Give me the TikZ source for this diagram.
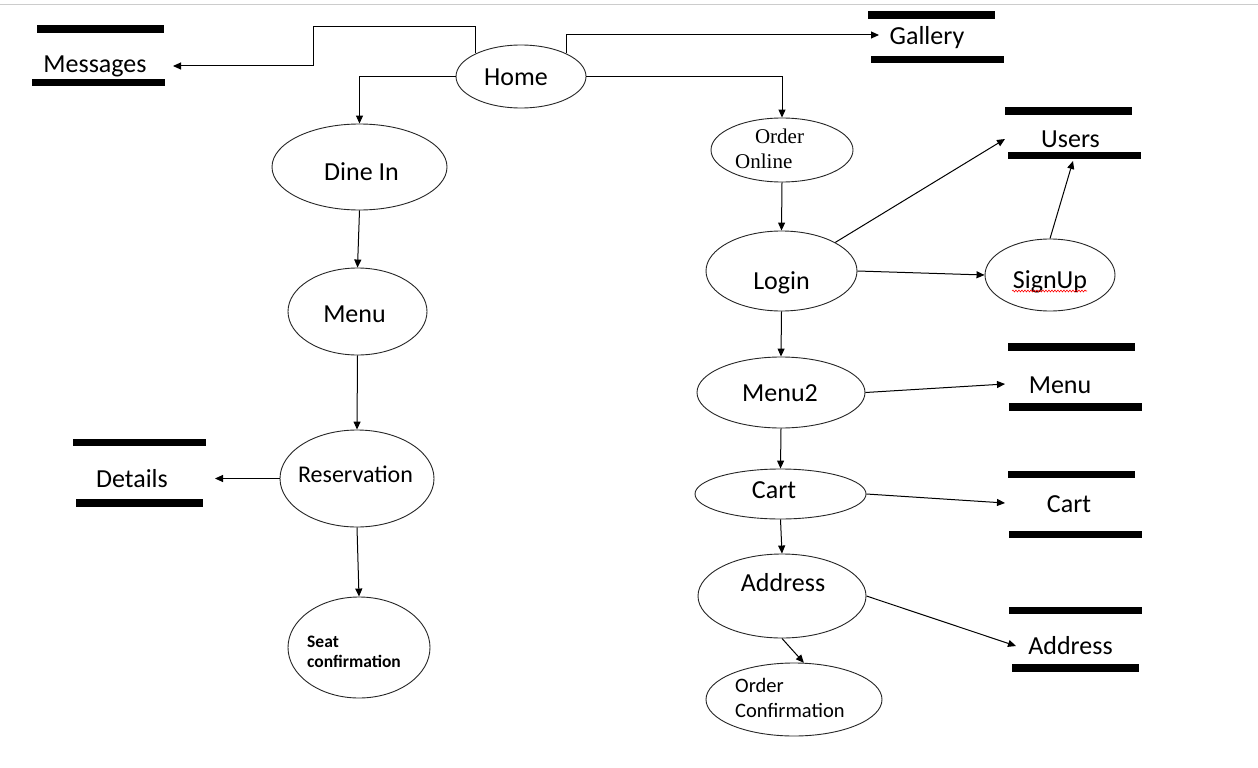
\documentclass[tikz,border=0pt]{standalone}
\usepackage{fontspec}
\setmainfont{Carlito}
\newfontfamily\timesf{Liberation Serif}
\usetikzlibrary{shapes.geometric,arrows.meta,decorations.pathmorphing}
\tikzset{
  proc/.style={draw=black!85, line width=0.9pt, ellipse, inner sep=0pt},
  txt/.style={inner sep=0pt, anchor=base, font=\fontsize{26}{30}\selectfont},
  bar/.style={line width=7.5pt, black},
  arr/.style={draw=black, line width=1pt, -{Triangle[length=8pt,width=7pt]}},
}
\begin{document}
\begin{tikzpicture}[x=1pt,y=-1pt]
\useasboundingbox (0,0) rectangle (1258,768);
\fill[white] (0,0) rectangle (1258,768);
\draw[gray!40, line width=1pt] (0,5) -- (1258,5);

% process ellipses
\node[proc, minimum width=130pt, minimum height=63pt] (home) at (521,76.5) {};
\node[proc, minimum width=175pt, minimum height=86pt] (dinein) at (359.5,167) {};
\node[proc, minimum width=139pt, minimum height=87pt] (menuA) at (357.5,311.5) {};
\node[proc, minimum width=154pt, minimum height=97pt] (resv) at (357,478.5) {};
\node[proc, minimum width=142pt, minimum height=101pt] (seat) at (359,647.5) {};
\node[proc, minimum width=142pt, minimum height=64pt] (online) at (782,150) {};
\node[proc, minimum width=151pt, minimum height=80pt] (login) at (781.5,271) {};
\node[proc, minimum width=130pt, minimum height=72pt] (signup) at (1050,275) {};
\node[proc, minimum width=168pt, minimum height=71pt] (menuB) at (781,392.5) {};
\node[proc, minimum width=171pt, minimum height=50pt] (cart) at (780.5,494) {};
\node[proc, minimum width=168pt, minimum height=84pt] (addr) at (782,596) {};
\node[proc, minimum width=176pt, minimum height=73pt] (ordconf) at (794,699.5) {};

% process texts
\node[txt] (t-home) at (516,85) {Home};
\node[txt] (t-dinein) at (361.5,180) {Dine In};
\node[txt] (t-menuA) at (354.5,322) {Menu};
\node[txt, font=\fontsize{24}{28}\selectfont] (t-resv) at (355.5,482) {Reservation};
\node[txt, anchor=base west, font=\fontsize{17.5}{20}\selectfont\bfseries] (t-seat1) at (307,647) {Seat};
\node[txt, anchor=base west, font=\fontsize{17.5}{20}\selectfont\bfseries] (t-seat2) at (307,667) {confirmation};
\node[txt, font=\fontsize{21}{25}\timesf] (t-online1) at (779.5,143) {Order};
\node[txt, anchor=base west, font=\fontsize{21}{25}\timesf] (t-online2) at (735,168) {Online};
\node[txt] (t-login) at (781.5,289) {Login};
\node[txt] (t-signup) at (1050,288) {SignUp};
\node[txt] (t-menuB) at (780,401) {Menu2};
\node[txt] (t-cart) at (774,498) {Cart};
\node[txt] (t-addr) at (783,591) {Address};
\node[txt, anchor=base west, font=\fontsize{20.5}{24}\selectfont] (t-oc1) at (735,692) {Order};
\node[txt, anchor=base west, font=\fontsize{20.5}{24}\selectfont] (t-oc2) at (735,717) {Confirmation};
\draw[red, line width=0.6pt, decorate, decoration={snake, amplitude=0.9pt, segment length=3pt}] (1012,291) -- (1087,291);

% data stores
\node[txt] (s-msgs) at (95,73) {Messages};
\draw[bar] (37,29) -- (164,29); \draw[bar] (32,82.5) -- (165,82.5);
\node[txt] (s-gal) at (927,45) {Gallery};
\draw[bar] (868,15) -- (995,15); \draw[bar] (871,59.5) -- (1004,59.5);
\node[txt] (s-users) at (1070.5,147) {Users};
\draw[bar] (1005,111) -- (1132,111); \draw[bar] (1008,155.5) -- (1141,155.5);
\node[txt] (s-menu) at (1060,393) {Menu};
\draw[bar] (1008,347) -- (1135,347); \draw[bar] (1009,407) -- (1142,407);
\node[txt] (s-cart) at (1069,512) {Cart};
\draw[bar] (1008,474.5) -- (1135,474.5); \draw[bar] (1009,534.5) -- (1142,534.5);
\node[txt] (s-addr) at (1070.5,654) {Address};
\draw[bar] (1009,610.5) -- (1142,610.5); \draw[bar] (1012,668) -- (1139,668);
\node[txt] (s-det) at (132,487) {Details};
\draw[bar] (73,442.5) -- (206,442.5); \draw[bar] (76,503) -- (203,503);

% connector ends
\coordinate (c-msgbend) at (313,27);
\coordinate (c-msgtip) at (173,66);
\coordinate (c-galtip) at (879,35);
\coordinate (c-dettip) at (215,478.5);
\coordinate (c-usertipA) at (1005,139);
\coordinate (c-usertipB) at (1073,161);
\coordinate (c-menutip) at (1005,384);
\coordinate (c-carttip) at (1005,503);
\coordinate (c-addrtip) at (1016,646);

% connectors
\draw[arr] (home.153) |- (c-msgbend) |- (c-msgtip);
\draw[arr] (home.27) |- (c-galtip);
\draw[arr] (home.west) -| (dinein.north);
\draw[arr] (home.east) -| (online.north);
\draw[arr] (dinein.south) -- (menuA.north);
\draw[arr] (menuA.south) -- (resv.north);
\draw[arr] (resv.west) -- (c-dettip);
\draw[arr] (resv.south) -- (seat.north);
\draw[arr] (online.south) -- (login.north);
\draw[arr] (login.28) -- (c-usertipA);
\draw[arr] (login.east) -- (signup.west);
\draw[arr] (signup.north) -- (c-usertipB);
\draw[arr] (login.south) -- (menuB.north);
\draw[arr] (menuB.east) -- (c-menutip);
\draw[arr] (menuB.south) -- (cart.north);
\draw[arr] (cart.east) -- (c-carttip);
\draw[arr] (cart.south) -- (addr.north);
\draw[arr] (addr.east) -- (c-addrtip);
\draw[arr] (addr.south) -- (ordconf.75);
\end{tikzpicture}
\end{document}
